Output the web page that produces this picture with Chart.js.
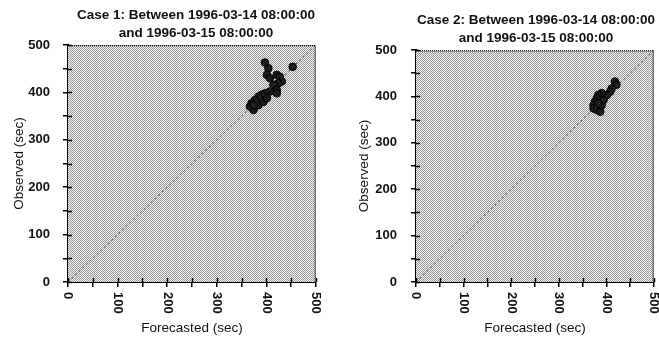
<!DOCTYPE html>
<html>
<head>
<meta charset="utf-8">
<script src="https://cdn.jsdelivr.net/npm/chart.js@4.4.1/dist/chart.umd.min.js"></script>
<style>
  body { margin: 0; background: #fff; }
  .box { position: absolute; top: 0; height: 337px; }
  #b1 { left: 0; width: 330px; }
  #b2 { left: 330px; width: 329px; }
</style>
</head>
<body>
<div class="box" id="b1"><canvas id="c1"></canvas></div>
<div class="box" id="b2"><canvas id="c2"></canvas></div>
<script>
'use strict'

// Case 1 points (forecasted, observed)
const case1X = [397, 453, 404, 401, 407, 421, 427, 431, 424, 414, 421, 421, 407, 397, 390, 384, 377, 370, 367, 374, 384, 394, 401, 374];
const case1Y = [463, 454, 451, 437, 430, 437, 433, 423, 419, 416, 405, 398, 402, 398, 395, 391, 384, 377, 370, 363, 373, 380, 388, 373];

// Case 2 points
const case2X = [418, 421, 411, 408, 401, 390, 383, 380, 376, 373, 373, 380, 387, 390, 394, 383];
const case2Y = [432, 425, 417, 410, 403, 407, 403, 396, 389, 381, 374, 371, 367, 381, 392, 385];

// diagonal reference line
const diagX = [0, 500];
const diagY = [0, 500];

const tickLabels = [0, 100, 200, 300, 400, 500];

const titles1 = ['Case 1: Between 1996-03-14 08:00:00', 'and 1996-03-15 08:00:00'];
const titles2 = ['Case 2: Between 1996-03-14 08:00:00', 'and 1996-03-15 08:00:00'];

const FONT = '"Liberation Sans", Arial, sans-serif';

function pts(xs, ys) {
  return xs.map((x, i) => ({x: x, y: ys[i]}));
}

function makePattern() {
  const c = document.createElement('canvas');
  c.width = 2; c.height = 2;
  const g = c.getContext('2d');
  g.fillStyle = '#f2f2f2'; g.fillRect(0, 0, 2, 2);
  g.fillStyle = '#999999';
  g.fillRect(0, 0, 1, 1);
  g.fillRect(1, 1, 1, 1);
  return g.createPattern(c, 'repeat');
}

const plotDeco = {
  id: 'plotDeco',
  beforeDatasetsDraw(chart) {
    const {ctx, chartArea: a} = chart;
    ctx.save();
    ctx.fillStyle = makePattern();
    ctx.fillRect(a.left, a.top, a.right - a.left, a.bottom - a.top);
    ctx.setLineDash([1, 1]);
    ctx.strokeStyle = '#222';
    ctx.lineWidth = 1.5;
    ctx.beginPath();
    ctx.moveTo(a.left, a.top + 0.75);
    ctx.lineTo(a.right - 0.75, a.top + 0.75);
    ctx.lineTo(a.right - 0.75, a.bottom);
    ctx.stroke();
    ctx.restore();
  },
  afterDraw(chart, args, opts) {
    const {ctx, chartArea: a} = chart;
    const xs = chart.scales.x, ys = chart.scales.y;
    ctx.save();
    // inner halves of the tick marks
    ctx.strokeStyle = '#000';
    ctx.lineWidth = 1.5;
    ctx.beginPath();
    xs.ticks.forEach(t => {
      const px = Math.round(xs.getPixelForValue(t.value)) + 0.5;
      ctx.moveTo(px, a.bottom);
      ctx.lineTo(px, a.bottom - 4);
    });
    ys.ticks.forEach(t => {
      const py = Math.round(ys.getPixelForValue(t.value)) + 0.5;
      ctx.moveTo(a.left, py);
      ctx.lineTo(a.left + 4, py);
    });
    ctx.stroke();
    // x labels, turned clockwise
    ctx.fillStyle = '#111';
    ctx.font = 'bold 13px ' + FONT;
    ctx.textAlign = 'left';
    ctx.textBaseline = 'middle';
    tickLabels.forEach(v => {
      ctx.save();
      ctx.translate(xs.getPixelForValue(v), a.bottom + 10);
      ctx.rotate(Math.PI / 2);
      ctx.fillText(String(v), 0, 0);
      ctx.restore();
    });
    // title, centred over the plot
    ctx.font = 'bold 13.5px ' + FONT;
    ctx.textAlign = 'center';
    const cx = (a.left + a.right) / 2 + opts.shift;
    opts.text.forEach((line, i) => {
      ctx.fillText(line, cx, opts.y0 + i * 18);
    });
    ctx.restore();
  }
};

function makeChart(id, xsData, ysData, titleText, o) {
  new Chart(document.getElementById(id), {
    type: 'scatter',
    data: {
      datasets: [{
        type: 'line',
        data: pts(diagX, diagY),
        borderColor: '#444',
        borderWidth: 1,
        borderDash: [2, 3],
        pointRadius: 0,
        fill: false
      }, {
        data: pts(xsData, ysData),
        backgroundColor: '#1b1b1b',
        borderColor: '#000',
        borderWidth: 1,
        pointRadius: 3.8
      }]
    },
    plugins: [plotDeco],
    options: {
      responsive: true,
      maintainAspectRatio: false,
      animation: false,
      layout: {padding: {left: 0, right: o.right, top: o.top, bottom: 0}},
      plugins: {
        legend: {display: false},
        tooltip: {enabled: false},
        title: {display: false},
        plotDeco: {text: titleText, y0: o.titleY, shift: o.shift}
      },
      scales: {
        x: {
          type: 'linear',
          min: 0, max: 500,
          afterFit(s) { s.height = 55; },
          border: {display: true, color: '#000', width: 2},
          grid: {drawOnChartArea: false, drawTicks: true, tickLength: 5, color: '#000', lineWidth: 1.5},
          ticks: {stepSize: 50, display: false},
          title: {
            display: true,
            text: 'Forecasted (sec)',
            color: '#111',
            font: {family: FONT, size: 13.5},
            padding: {top: 0, bottom: 1}
          }
        },
        y: {
          type: 'linear',
          min: 0, max: 500,
          afterFit(s) { s.width = o.yWidth; },
          border: {display: true, color: '#000', width: 2},
          grid: {drawOnChartArea: false, drawTicks: true, tickLength: 5, color: '#000', lineWidth: 1.5},
          ticks: {
            stepSize: 50,
            padding: o.tickPad,
            color: '#111',
            font: {family: FONT, size: 13, weight: 'bold'},
            callback: v => (v % 100 === 0 ? v : '')
          },
          title: {
            display: true,
            text: 'Observed (sec)',
            color: '#111',
            font: {family: FONT, size: 13.5},
            padding: {top: o.yTitlePad, bottom: 0}
          }
        }
      }
    }
  });
}

makeChart('c1', case1X, case1Y, titles1, {right: 14, top: 45, titleY: 15, shift: 4, yWidth: 68, tickPad: 13, yTitlePad: 11});
makeChart('c2', case2X, case2Y, titles2, {right: 5, top: 50, titleY: 20, shift: 1, yWidth: 86, tickPad: 14, yTitlePad: 26});
</script>
</body>
</html>
